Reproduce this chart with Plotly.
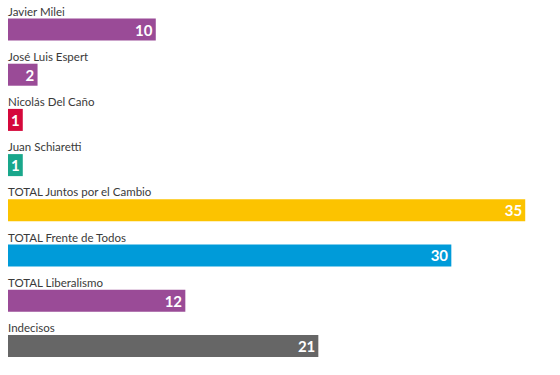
import plotly.graph_objects as go

labels = ["Javier Milei", "José Luis Espert", "Nicolás Del Caño", "Juan Schiaretti",
          "TOTAL Juntos por el Cambio", "TOTAL Frente de Todos", "TOTAL Liberalismo", "Indecisos"]
values = [10, 2, 1, 1, 35, 30, 12, 21]
colors = ["#9a4b97", "#9a4b97", "#d5083b", "#19a78b", "#fcc300", "#009bd9", "#9a4b97", "#666666"]

pos = list(range(len(labels)))

fig = go.Figure(go.Bar(
    x=values, y=pos, orientation="h",
    marker=dict(color=colors, line=dict(width=0)),
    width=0.487,
    text=[str(v) for v in values],
    textposition="inside", insidetextanchor="end",
    insidetextfont=dict(color="white", size=15, family="Lato", weight="bold"),
    textangle=0,
    constraintext="none",
    cliponaxis=False,
    hoverinfo="skip",
))

for i, lab in enumerate(labels):
    fig.add_annotation(x=0, y=pos[i], xref="x", yref="y", text=lab, showarrow=False,
                       xanchor="left", yanchor="bottom", yshift=10, xshift=-2,
                       font=dict(size=11.5, color="#3a3a3a", family="Lato"))

fig.update_layout(
    width=560, height=375,
    margin=dict(l=8, r=20, t=0, b=0),
    plot_bgcolor="white", paper_bgcolor="white",
    showlegend=False,
    xaxis=dict(range=[0, 36], visible=False),
    yaxis=dict(range=[7.644, -0.653], visible=False),
)
fig.write_html("out.html", config={"displayModeBar": False},
               post_script="document.body.style.margin='0px';")
